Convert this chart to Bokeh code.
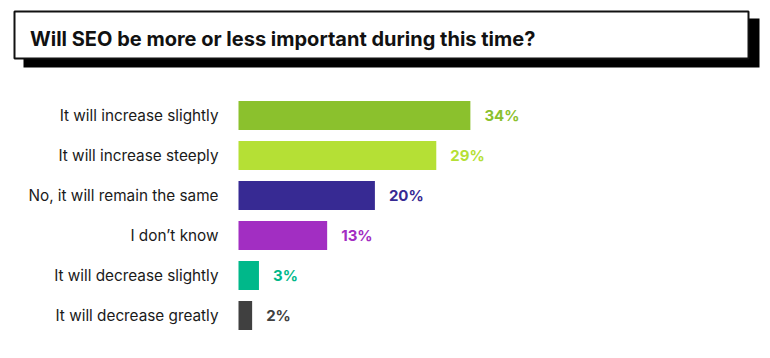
from bokeh.plotting import figure
from bokeh.models import ColumnDataSource, FactorRange, Range1d, BoxAnnotation, Label
from bokeh.layouts import column
from bokeh.embed import file_html
from bokeh.resources import INLINE
from bokeh.core.properties import value

# ---- data ----
title_text = "Will SEO be more or less important during this time?"
categories = [
    "It will increase slightly",
    "It will increase steeply",
    "No, it will remain the same",
    "I don\u2019t know",
    "It will decrease slightly",
    "It will decrease greatly",
]
percents = [34, 29, 20, 13, 3, 2]
value_labels = ["34%", "29%", "20%", "13%", "3%", "2%"]
colors = ["#8BC12D", "#B5E035", "#372A93", "#A22EC2", "#00B88A", "#404040"]

FONT = "Inter"
W = 762

# ---- title figure (boxed heading with drop shadow) ----
TH = 95
t = figure(width=W, height=TH, output_backend="svg", toolbar_location=None,
           x_range=Range1d(0, W), y_range=Range1d(TH, 0),
           x_axis_location=None, y_axis_location=None,
           min_border=0, outline_line_color=None)
t.grid.visible = False
t.add_layout(BoxAnnotation(left=23, right=759, top=18, bottom=67,
                           fill_color="#000000", fill_alpha=1, line_color=None))
t.add_layout(BoxAnnotation(left=14, right=748, top=11, bottom=58,
                           fill_color="#FFFFFF", fill_alpha=1,
                           line_color="#111111", line_width=2, line_alpha=1))
t.add_layout(Label(x=29.5, y=38.5, text=title_text, text_font=FONT,
                   text_font_size="20px", text_font_style="bold",
                   text_color="#111111", text_baseline="alphabetic"))

# ---- bar chart ----
px_per_pct = 6.82
bar_left_px = 238
x_start = -bar_left_px / px_per_pct
x_end = x_start + W / px_per_pct

src = ColumnDataSource(dict(cat=categories, pct=percents, lab=value_labels,
                            color=colors, zero=[0] * len(categories)))

p = figure(width=W, height=255, output_backend="svg", toolbar_location=None,
           y_range=FactorRange(factors=list(reversed(categories)), range_padding=0),
           x_range=Range1d(x_start, x_end),
           x_axis_location=None, y_axis_location=None,
           min_border_left=0, min_border_right=0, min_border_top=0,
           min_border_bottom=15, outline_line_color=None)
p.grid.visible = False

p.hbar(y="cat", left=0, right="pct", height=0.72, source=src,
       fill_color="color", line_color=None)

p.text(x="zero", y="cat", text="cat", source=src, x_offset=-20,
       text_align="right", text_baseline="middle",
       text_font=value(FONT), text_font_size="15.3px", text_color="#1A1A1A")

p.text(x="pct", y="cat", text="lab", source=src, x_offset=14,
       text_align="left", text_baseline="middle",
       text_font=value(FONT), text_font_size="15px", text_font_style="bold",
       text_color="color")

layout = column(t, p, spacing=0)
open("out.html", "w").write(file_html(layout, INLINE))
